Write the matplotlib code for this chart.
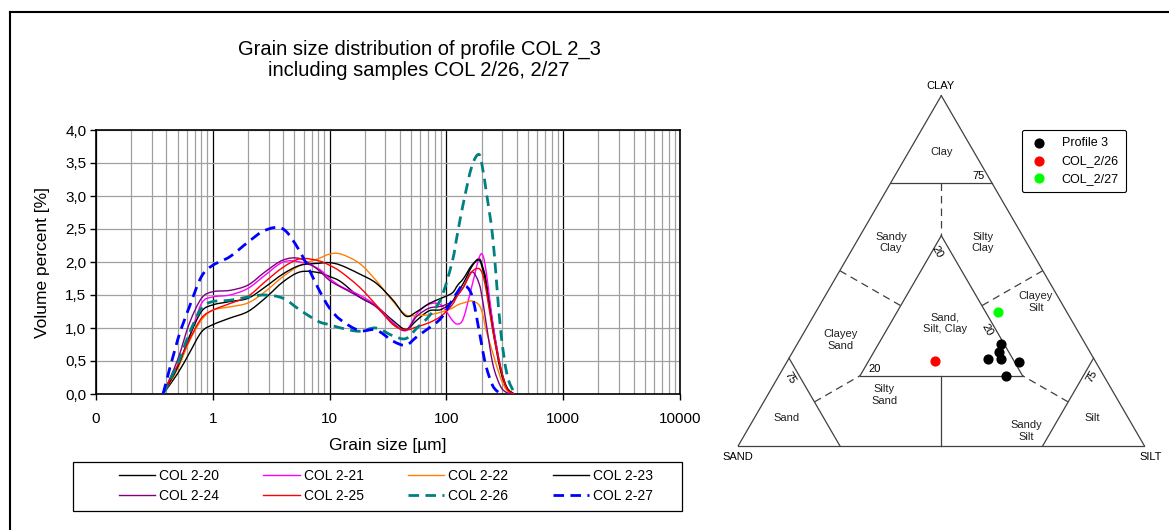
import numpy as np
import matplotlib
matplotlib.use("Agg")
import matplotlib.pyplot as plt
from matplotlib.lines import Line2D
from matplotlib.patches import PathPatch, Rectangle
from matplotlib.path import Path
from matplotlib.ticker import LogLocator, NullFormatter

plt.rcParams['font.family'] = ['Liberation Sans', 'DejaVu Sans']

# grain size classes [um]
sizes = [0.375, 0.5, 0.63, 0.8, 1.0, 1.4, 2.0, 2.8, 4.0, 5.6, 8.0, 10, 12.5, 18, 25, 35,
         45, 56, 71, 90, 112, 125, 140, 165, 190, 205, 220, 250, 290, 330, 380]

col_2_20 = [0, 0.31, 0.62, 0.94, 1.05, 1.15, 1.25, 1.45, 1.70, 1.85, 1.84, 1.78, 1.70, 1.47, 1.33, 1.11,
            0.98, 1.12, 1.26, 1.28, 1.40, 1.55, 1.68, 1.93, 2.05, 1.92, 1.70, 1.05, 0.42, 0.10, 0]
col_2_21 = [0, 0.41, 0.85, 1.37, 1.47, 1.50, 1.60, 1.80, 2.00, 2.00, 1.90, 1.75, 1.63, 1.50, 1.34, 1.08,
            0.96, 1.22, 1.36, 1.35, 1.12, 1.06, 1.15, 1.63, 2.06, 2.10, 1.83, 1.07, 0.40, 0.08, 0]
col_2_22 = [0, 0.38, 0.80, 1.12, 1.27, 1.32, 1.38, 1.55, 1.78, 1.95, 2.05, 2.12, 2.12, 1.98, 1.72, 1.40,
            1.20, 1.19, 1.20, 1.24, 1.30, 1.35, 1.38, 1.41, 1.35, 1.20, 0.95, 0.62, 0.25, 0.05, 0]
col_2_23 = [0, 0.41, 0.87, 1.25, 1.35, 1.40, 1.45, 1.62, 1.82, 1.95, 1.98, 1.99, 1.95, 1.82, 1.68, 1.42,
            1.18, 1.25, 1.37, 1.45, 1.53, 1.65, 1.75, 1.95, 2.03, 1.88, 1.63, 0.97, 0.36, 0.09, 0]
col_2_24 = [0, 0.52, 1.07, 1.45, 1.55, 1.57, 1.65, 1.85, 2.03, 2.05, 1.88, 1.72, 1.62, 1.47, 1.32, 1.06,
            0.97, 1.18, 1.30, 1.33, 1.40, 1.50, 1.62, 1.85, 1.68, 1.40, 1.05, 0.45, 0.12, 0.02, 0]
col_2_25 = [0, 0.44, 0.82, 1.15, 1.27, 1.37, 1.48, 1.70, 1.92, 2.05, 2.02, 1.95, 1.85, 1.62, 1.35, 1.05,
            0.97, 1.02, 1.08, 1.18, 1.35, 1.50, 1.62, 1.85, 1.90, 1.80, 1.55, 0.95, 0.40, 0.08, 0]
col_2_26 = [0, 0.46, 0.92, 1.30, 1.40, 1.42, 1.47, 1.50, 1.45, 1.27, 1.10, 1.05, 1.00, 0.95, 1.00, 0.88,
            0.84, 1.00, 1.18, 1.45, 2.00, 2.45, 2.90, 3.45, 3.63, 3.40, 3.05, 2.35, 1.00, 0.30, 0.02]
col_2_27 = [0, 0.82, 1.32, 1.78, 1.95, 2.08, 2.30, 2.48, 2.50, 2.15, 1.60, 1.30, 1.12, 0.96, 0.97, 0.80,
            0.74, 0.87, 1.00, 1.15, 1.42, 1.55, 1.65, 1.50, 0.97, 0.65, 0.40, 0.12, 0, np.nan, np.nan]

series = [
    ("COL 2-20", col_2_20, "black", "-"),
    ("COL 2-21", col_2_21, "#ff00ff", "-"),
    ("COL 2-22", col_2_22, "#ff8000", "-"),
    ("COL 2-23", col_2_23, "black", "-"),
    ("COL 2-24", col_2_24, "#800080", "-"),
    ("COL 2-25", col_2_25, "#ff0000", "-"),
    ("COL 2-26", col_2_26, "#008080", "--"),
    ("COL 2-27", col_2_27, "#0000ff", "--"),
]

xtick_vals = [0.1, 1, 10, 100, 1000, 10000]
xtick_labels = ["0", "1", "10", "100", "1000", "10000"]
ytick_vals = np.arange(0, 4.01, 0.5)
ytick_labels = ["0,0", "0,5", "1,0", "1,5", "2,0", "2,5", "3,0", "3,5", "4,0"]

# ternary data [%]
profile_sand = [20.8, 22.3, 23.0, 26.0, 18.9, 24.0]
profile_silt = [50.1, 50.8, 52.2, 49.1, 57.1, 56.1]
profile_clay = [29.1, 26.9, 24.8, 24.9, 24.0, 19.9]
s26_sand, s26_silt, s26_clay = [39.4], [36.3], [24.3]
s27_sand, s27_silt, s27_clay = [16.9], [45.0], [38.1]

W, H = 1169, 530
fig = plt.figure(figsize=(W / 100, H / 100), dpi=100)


def smooth_path(xs, ys):
    # smoothed line like the spreadsheet draws it: bezier through the points (log x)
    xs = np.asarray(xs, float)
    ys = np.asarray(ys, float)
    ok = ~np.isnan(ys)
    pts = np.column_stack([np.log10(xs[ok]), ys[ok]])
    n = len(pts)
    verts = [pts[0]]
    codes = [Path.MOVETO]
    for i in range(n - 1):
        p0 = pts[max(i - 1, 0)]
        p1 = pts[i]
        p2 = pts[i + 1]
        p3 = pts[min(i + 2, n - 1)]
        verts += [p1 + (p2 - p0) / 6, p2 - (p3 - p1) / 6, p2]
        codes += [Path.CURVE4] * 3
    verts = np.array(verts)
    verts[:, 0] = 10 ** verts[:, 0]
    return Path(verts, codes)


# ---- grain size chart ----
ax = fig.add_axes([96 / W, 1 - 394 / H, 584 / W, 264 / H])
ax.set_xscale("log")
ax.set_xlim(0.1, 10000)
ax.set_ylim(0, 4.0)

handles = []
for name, vals, col, ls in series:
    if ls == "--":
        kw = dict(lw=2.0, linestyle=(0, (3.8, 2.3)))
        z = 4
    else:
        kw = dict(lw=1.0, linestyle="-")
        z = 3
    ax.add_patch(PathPatch(smooth_path(sizes, vals), fill=False, edgecolor=col,
                           capstyle="butt", zorder=z, **kw))
    handles.append(Line2D([], [], color=col, label=name, **kw))

ax.set_xticks(xtick_vals)
ax.set_xticklabels(xtick_labels)
ax.xaxis.set_minor_locator(LogLocator(base=10, subs=range(2, 10), numticks=50))
ax.xaxis.set_minor_formatter(NullFormatter())
ax.set_yticks(ytick_vals)
ax.set_yticklabels(ytick_labels)
ax.tick_params(axis="both", which="major", direction="out", length=4, width=1,
               labelsize=11, colors="black")
ax.tick_params(axis="x", which="major", pad=9)
ax.tick_params(axis="y", which="major", pad=3)
ax.tick_params(axis="x", which="minor", length=0)
ax.grid(True, axis="x", which="minor", color="#a0a0a0", lw=0.9)
ax.grid(True, axis="x", which="major", color="black", lw=0.9)
ax.grid(True, axis="y", which="major", color="#a0a0a0", lw=0.9)
ax.set_axisbelow(True)
for sp in ax.spines.values():
    sp.set_color("black")
    sp.set_linewidth(1.2)

ax.set_xlabel("Grain size [µm]", fontsize=12.5)
ax.set_ylabel("Volume percent [%]", fontsize=12.5)
ax.xaxis.set_label_coords(0.5, (394 - 438) / 264)
ax.yaxis.set_label_coords((50 - 96) / 584, 0.5)

fig.text(419 / W, 1 - 60 / H, "Grain size distribution of profile COL 2_3\nincluding samples COL 2/26, 2/27",
         ha="center", va="center", fontsize=14.5, linespacing=1.12)

# legend: row-wise order like the original
order = [0, 4, 1, 5, 2, 6, 3, 7]
leg = fig.legend([handles[i] for i in order], [handles[i].get_label() for i in order],
                 ncol=4, loc="center", bbox_to_anchor=(386 / W, 1 - 486 / H), fontsize=10,
                 frameon=False, handlelength=2.6, handletextpad=0.3, columnspacing=3.2,
                 labelspacing=0.45, borderpad=0.3)
fig.add_artist(Rectangle((73 / W, 1 - 511 / H), 609 / W, 49 / H, transform=fig.transFigure,
                         fill=False, edgecolor="black", lw=0.9))

# ---- ternary diagram ----
tax = fig.add_axes([697.7 / W, 1 - 486.1 / H, 487.2 / W, 444.6 / H])
tax.set_xlim(-0.1, 1.1)
tax.set_ylim(-0.1, 1.0)
tax.axis("off")


def tern(sand, silt, clay):
    sand = np.asarray(sand, float)
    silt = np.asarray(silt, float)
    clay = np.asarray(clay, float)
    tot = sand + silt + clay
    c = clay / tot
    s = silt / tot
    return s + c / 2, c * np.sqrt(3) / 2


def tline(p1, p2, **kw):
    x, y = tern([p1[0], p2[0]], [p1[1], p2[1]], [p1[2], p2[2]])
    tax.plot(x, y, color="#404040", lw=0.9, **kw)


solid = [
    ((100, 0, 0), (0, 100, 0)), ((0, 100, 0), (0, 0, 100)), ((0, 0, 100), (100, 0, 0)),
    ((25, 0, 75), (0, 25, 75)), ((75, 0, 25), (75, 25, 0)), ((0, 75, 25), (25, 75, 0)),
    ((20, 20, 60), (60, 20, 20)), ((60, 20, 20), (20, 60, 20)), ((20, 60, 20), (20, 20, 60)),
    ((50, 50, 0), (40, 40, 20)),
]
dashed = [
    ((12.5, 12.5, 75), (20, 20, 60)),
    ((50, 0, 50), (40, 20, 40)),
    ((0, 50, 50), (20, 40, 40)),
    ((75, 12.5, 12.5), (60, 20, 20)),
    ((12.5, 75, 12.5), (20, 60, 20)),
]
for p1, p2 in solid:
    tline(p1, p2)
for p1, p2 in dashed:
    tline(p1, p2, dashes=(6, 4))

fs = 8
field_labels = [
    (0.500, 0.726, "Clay"), (0.376, 0.503, "Sandy\nClay"), (0.603, 0.503, "Silty\nClay"),
    (0.733, 0.355, "Clayey\nSilt"), (0.509, 0.303, "Sand,\nSilt, Clay"),
    (0.253, 0.261, "Clayey\nSand"), (0.360, 0.125, "Silty\nSand"), (0.119, 0.068, "Sand"),
    (0.709, 0.036, "Sandy\nSilt"), (0.872, 0.068, "Silt"),
]
for x, y, t in field_labels:
    tax.text(x, y, t, ha="center", va="center", fontsize=fs, color="#202020", linespacing=1.2)

tax.text(0.591, 0.667, "75", ha="center", va="center", fontsize=fs)
tax.text(0.489, 0.480, "20", ha="center", va="center", fontsize=fs, rotation=-60)
tax.text(0.612, 0.286, "20", ha="center", va="center", fontsize=fs, rotation=-60)
tax.text(0.337, 0.190, "20", ha="center", va="center", fontsize=fs)
tax.text(0.127, 0.167, "75", ha="center", va="center", fontsize=fs, rotation=-60)
tax.text(0.870, 0.171, "75", ha="center", va="center", fontsize=fs, rotation=60)

tax.text(0.497, 0.891, "CLAY", ha="center", va="center", fontsize=fs)
tax.text(0.0, -0.028, "SAND", ha="center", va="center", fontsize=fs)
tax.text(1.015, -0.028, "SILT", ha="center", va="center", fontsize=fs, clip_on=False)

px, py = tern(profile_sand, profile_silt, profile_clay)
tax.scatter(px, py, s=40, color="black", label="Profile 3", zorder=5)
rx, ry = tern(s26_sand, s26_silt, s26_clay)
tax.scatter(rx, ry, s=40, color="#ff0000", label="COL_2/26", zorder=5)
gx, gy = tern(s27_sand, s27_silt, s27_clay)
tax.scatter(gx, gy, s=40, color="#00ff00", label="COL_2/27", zorder=5)

tleg = tax.legend(loc="upper left", bbox_to_anchor=(1021.7 / W, 1 - 130 / H),
                  bbox_transform=fig.transFigure, fontsize=9, frameon=True, fancybox=True,
                  edgecolor="black", framealpha=1, handletextpad=1.1, labelspacing=0.45,
                  borderpad=0.6, handlelength=1.5, markerscale=1.0, borderaxespad=0)
tleg.get_frame().set_linewidth(0.8)

# page frame
fig.add_artist(Line2D([10 / W, 1], [1 - 12 / H, 1 - 12 / H], color="black", lw=1.5))
fig.add_artist(Line2D([10 / W, 10 / W], [0, 1 - 12 / H], color="black", lw=1.5))

fig.savefig("out.png", dpi=100)
